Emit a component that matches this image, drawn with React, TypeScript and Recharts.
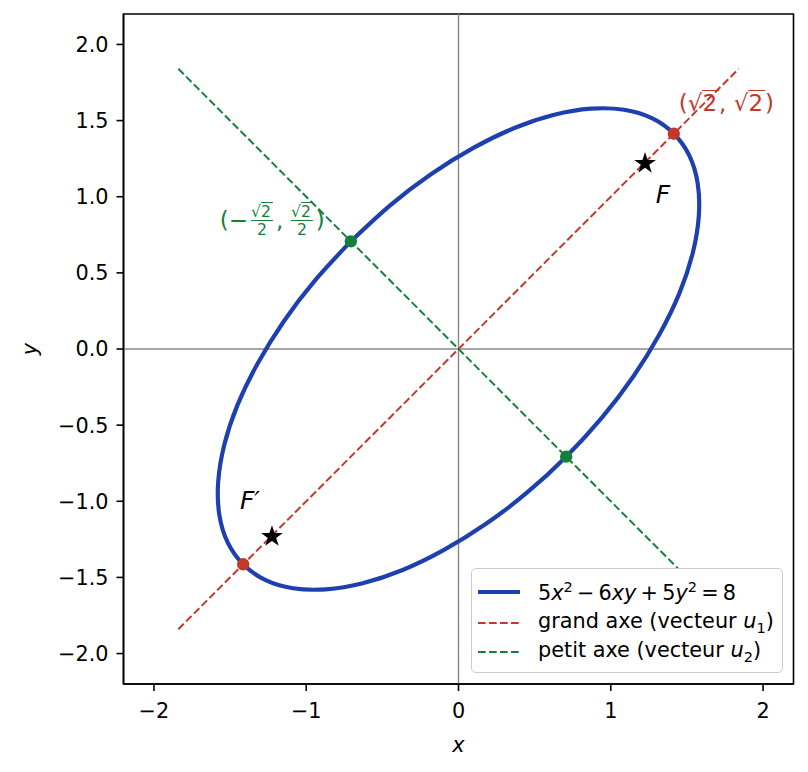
import React from "react";
import {
  ScatterChart,
  Scatter,
  XAxis,
  YAxis,
  ReferenceLine,
  ReferenceArea,
  Legend,
  Label,
} from "recharts";

const FONT = "'DejaVu Sans', sans-serif";
const BLUE = "#1e40af";
const RED = "#c0392b";
const GREEN = "#15803d";
const GRAY = "#888888";

const domain = [-2.2, 2.2];
const xTicks = [-2, -1, 0, 1, 2];
const yTicks = [-2, -1.5, -1, -0.5, 0, 0.5, 1, 1.5, 2];

// ellipse 5x² − 6xy + 5y² = 8, points read around the curve (closed)
const ellipseX = [
  -0.707, -0.942, -1.148, -1.319, -1.451, -1.538, -1.578, -1.571, -1.516, -1.414,
  -1.27, -1.087, -0.871, -0.629, -0.367, -0.095, 0.181, 0.451, 0.707, 0.942,
  1.148, 1.319, 1.451, 1.538, 1.578, 1.571, 1.516, 1.414, 1.27, 1.087,
  0.871, 0.629, 0.367, 0.095, -0.181, -0.451, -0.707,
];
const ellipseY = [
  0.707, 0.451, 0.181, -0.095, -0.367, -0.629, -0.871, -1.087, -1.27, -1.414,
  -1.516, -1.571, -1.578, -1.538, -1.451, -1.319, -1.148, -0.942, -0.707, -0.451,
  -0.181, 0.095, 0.367, 0.629, 0.871, 1.087, 1.27, 1.414, 1.516, 1.571,
  1.578, 1.538, 1.451, 1.319, 1.148, 0.942, 0.707,
];

// axes of the ellipse (dashed)
const majorAxisX = [-1.84, 1.84];
const majorAxisY = [-1.84, 1.84];
const minorAxisX = [-1.84, 1.84];
const minorAxisY = [1.84, -1.84];

// vertices and foci
const majorVertexX = [1.414, -1.414];
const majorVertexY = [1.414, -1.414];
const minorVertexX = [-0.707, 0.707];
const minorVertexY = [0.707, -0.707];
const fociX = [1.225, -1.225];
const fociY = [1.225, -1.225];
const fociNames = ["F", "F\u2032"];

const zip = (xs: number[], ys: number[]) => xs.map((x, i) => ({ x, y: ys[i] }));

const ellipseData = zip(ellipseX, ellipseY);
const majorVertices = zip(majorVertexX, majorVertexY);
const minorVertices = zip(minorVertexX, minorVertexY);
const foci = fociX.map((x, i) => ({ x, y: fociY[i], name: fociNames[i] }));

const minus = (s: string) => s.replace("-", "\u2212");
const fmtX = (v: number) => minus(v.toFixed(0));
const fmtY = (v: number) => minus(v.toFixed(1));

const tickStyle = { fontSize: 20.8, fill: "#000", fontFamily: FONT };
const axisLineStyle = { stroke: "#000", strokeWidth: 1.6 };

const Radical = ({ children }: any) => (
  <span style={{ whiteSpace: "nowrap" }}>
    √
    <span
      style={{
        display: "inline-block",
        borderTop: "1.6px solid",
        lineHeight: "0.92em",
        paddingTop: 2,
        paddingRight: 2,
      }}
    >
      {children}
    </span>
  </span>
);

const Frac = () => (
  <span
    style={{
      display: "inline-flex",
      flexDirection: "column",
      alignItems: "center",
      fontSize: "0.68em",
      verticalAlign: "middle",
      margin: "0 3px",
    }}
  >
    <span style={{ lineHeight: 1.05 }}>
      <Radical>2</Radical>
    </span>
    <span
      style={{ borderTop: "1.2px solid", width: "100%", lineHeight: 1.1, textAlign: "center" }}
    >
      2
    </span>
  </span>
);

const MajorVertex = (p: any) => (
  <g>
    <circle cx={p.cx} cy={p.cy} r={6.2} fill={RED} />
    {p.payload.x > 0 && (
      <foreignObject x={p.cx + 5} y={p.cy - 49} width={130} height={36}>
        <div
          style={{
            fontFamily: FONT,
            fontSize: 23,
            color: RED,
            height: 36,
            display: "flex",
            alignItems: "center",
            whiteSpace: "nowrap",
          }}
        >
          (<Radical>2</Radical>,&nbsp;<Radical>2</Radical>)
        </div>
      </foreignObject>
    )}
  </g>
);

const MinorVertex = (p: any) => (
  <g>
    <circle cx={p.cx} cy={p.cy} r={6.2} fill={GREEN} />
    {p.payload.x < 0 && (
      <foreignObject x={p.cx - 156} y={p.cy - 46} width={130} height={50}>
        <div
          style={{
            fontFamily: FONT,
            fontSize: 23,
            color: GREEN,
            height: 50,
            display: "flex",
            alignItems: "center",
            justifyContent: "flex-end",
            whiteSpace: "nowrap",
          }}
        >
          (−<Frac />,&thinsp;<Frac />)
        </div>
      </foreignObject>
    )}
  </g>
);

const starPath = (cx: number, cy: number, R: number, r: number) => {
  const pts: string[] = [];
  for (let k = 0; k < 10; k++) {
    const rad = k % 2 === 0 ? R : r;
    const a = -Math.PI / 2 + (k * Math.PI) / 5;
    pts.push(`${cx + rad * Math.cos(a)},${cy + rad * Math.sin(a)}`);
  }
  return `M${pts.join("L")}Z`;
};

const Focus = (p: any) => {
  const isF = p.payload.name === "F";
  return (
    <g>
      <path d={starPath(p.cx, p.cy + 1, 11.4, 4.4)} fill="#000" />
      <text
        x={p.cx + (isF ? 18 : -22)}
        y={p.cy + (isF ? 32 : -35)}
        textAnchor="middle"
        dominantBaseline="central"
        fontFamily={FONT}
        fontStyle="italic"
        fontSize={25}
        fill="#000"
      >
        {p.payload.name}
      </text>
    </g>
  );
};

const sp = "\u2009";

const LegendBox = () => {
  const rows = [
    {
      color: BLUE,
      dash: undefined,
      width: 4.2,
      center: 23,
      label: (
        <span>
          5<i>x</i>
          <sup style={{ fontSize: "0.7em" }}>2</sup>
          {sp}−{sp}6<i>xy</i>
          {sp}+{sp}5<i>y</i>
          <sup style={{ fontSize: "0.7em" }}>2</sup>
          {sp}={sp}8
        </span>
      ),
    },
    {
      color: RED,
      dash: "7.7 3.3",
      width: 2.1,
      center: 54,
      label: (
        <span>
          grand axe (vecteur <i>u</i>
          <sub style={{ fontSize: "0.7em" }}>1</sub>)
        </span>
      ),
    },
    {
      color: GREEN,
      dash: "7.7 3.3",
      width: 2.1,
      center: 83,
      label: (
        <span>
          petit axe (vecteur <i>u</i>
          <sub style={{ fontSize: "0.7em" }}>2</sub>)
        </span>
      ),
    },
  ];
  return (
    <div
      style={{
        position: "relative",
        width: 312,
        height: 105,
        boxSizing: "border-box",
        border: "1.5px solid #cccccc",
        borderRadius: 5,
        background: "#fff",
        fontFamily: FONT,
        fontSize: 20.8,
        color: "#000",
      }}
    >
      {rows.map((r, i) => (
        <div
          key={i}
          style={{
            position: "absolute",
            left: 0,
            top: r.center - 16,
            height: 32,
            display: "flex",
            alignItems: "center",
            whiteSpace: "nowrap",
            lineHeight: 1,
          }}
        >
          <svg width={42} height={10} style={{ marginLeft: 6, marginRight: 18 }}>
            <line
              x1={0}
              y1={5}
              x2={42}
              y2={5}
              stroke={r.color}
              strokeWidth={r.width}
              strokeDasharray={r.dash}
            />
          </svg>
          {r.label}
        </div>
      ))}
    </div>
  );
};

export default function App() {
  return (
    <div style={{ position: "absolute", left: 0, top: 0, background: "#fff" }}>
      <ScatterChart
        width={808}
        height={772}
        margin={{ top: 14, right: 14.5, bottom: 0, left: 0 }}
      >
        <XAxis
          type="number"
          dataKey="x"
          domain={domain}
          ticks={xTicks}
          allowDataOverflow
          tickFormatter={fmtX}
          tick={tickStyle}
          tickSize={7}
          tickMargin={12}
          height={88}
          axisLine={axisLineStyle}
          tickLine={axisLineStyle}
        >
          <Label
            content={({ viewBox }: any) => (
              <text
                x={viewBox.x + viewBox.width / 2}
                y={viewBox.y + 61}
                textAnchor="middle"
                dominantBaseline="central"
                fontFamily={FONT}
                fontStyle="italic"
                fontSize={20.8}
                fill="#000"
              >
                x
              </text>
            )}
          />
        </XAxis>
        <YAxis
          type="number"
          dataKey="y"
          domain={domain}
          ticks={yTicks}
          allowDataOverflow
          tickFormatter={fmtY}
          tick={tickStyle}
          tickSize={7}
          tickMargin={8}
          width={123.5}
          axisLine={axisLineStyle}
          tickLine={axisLineStyle}
        >
          <Label
            content={({ viewBox }: any) => (
              <text
                x={viewBox.x + 30}
                y={viewBox.y + viewBox.height / 2}
                textAnchor="middle"
                dominantBaseline="central"
                transform={`rotate(-90 ${viewBox.x + 30} ${viewBox.y + viewBox.height / 2})`}
                fontFamily={FONT}
                fontStyle="italic"
                fontSize={20.8}
                fill="#000"
              >
                y
              </text>
            )}
          />
        </YAxis>

        <ReferenceLine x={0} stroke={GRAY} strokeWidth={1.4} />
        <ReferenceLine y={0} stroke={GRAY} strokeWidth={1.4} />

        <ReferenceLine
          segment={zip(majorAxisX, majorAxisY)}
          stroke={RED}
          strokeWidth={2}
          strokeDasharray="7.7 3.3"
        />
        <ReferenceLine
          segment={zip(minorAxisX, minorAxisY)}
          stroke={GREEN}
          strokeWidth={2}
          strokeDasharray="7.7 3.3"
        />

        <Scatter
          data={ellipseData}
          fill={BLUE}
          line={{ stroke: BLUE, strokeWidth: 4.2 }}
          lineJointType="natural"
          shape={() => <g />}
          isAnimationActive={false}
        />
        <Scatter
          data={majorVertices}
          fill={RED}
          shape={MajorVertex}
          isAnimationActive={false}
        />
        <Scatter
          data={minorVertices}
          fill={GREEN}
          shape={MinorVertex}
          isAnimationActive={false}
        />
        <Scatter data={foci} fill="#000" shape={Focus} isAnimationActive={false} />

        <ReferenceArea
          x1={domain[0]}
          x2={domain[1]}
          y1={domain[0]}
          y2={domain[1]}
          fill="none"
          stroke="#000"
          strokeWidth={1.6}
        />

        <Legend
          layout="vertical"
          align="center"
          verticalAlign="middle"
          wrapperStyle={{ left: 471, top: 568, width: 312, height: 105 }}
          content={() => <LegendBox />}
        />
      </ScatterChart>
    </div>
  );
}
